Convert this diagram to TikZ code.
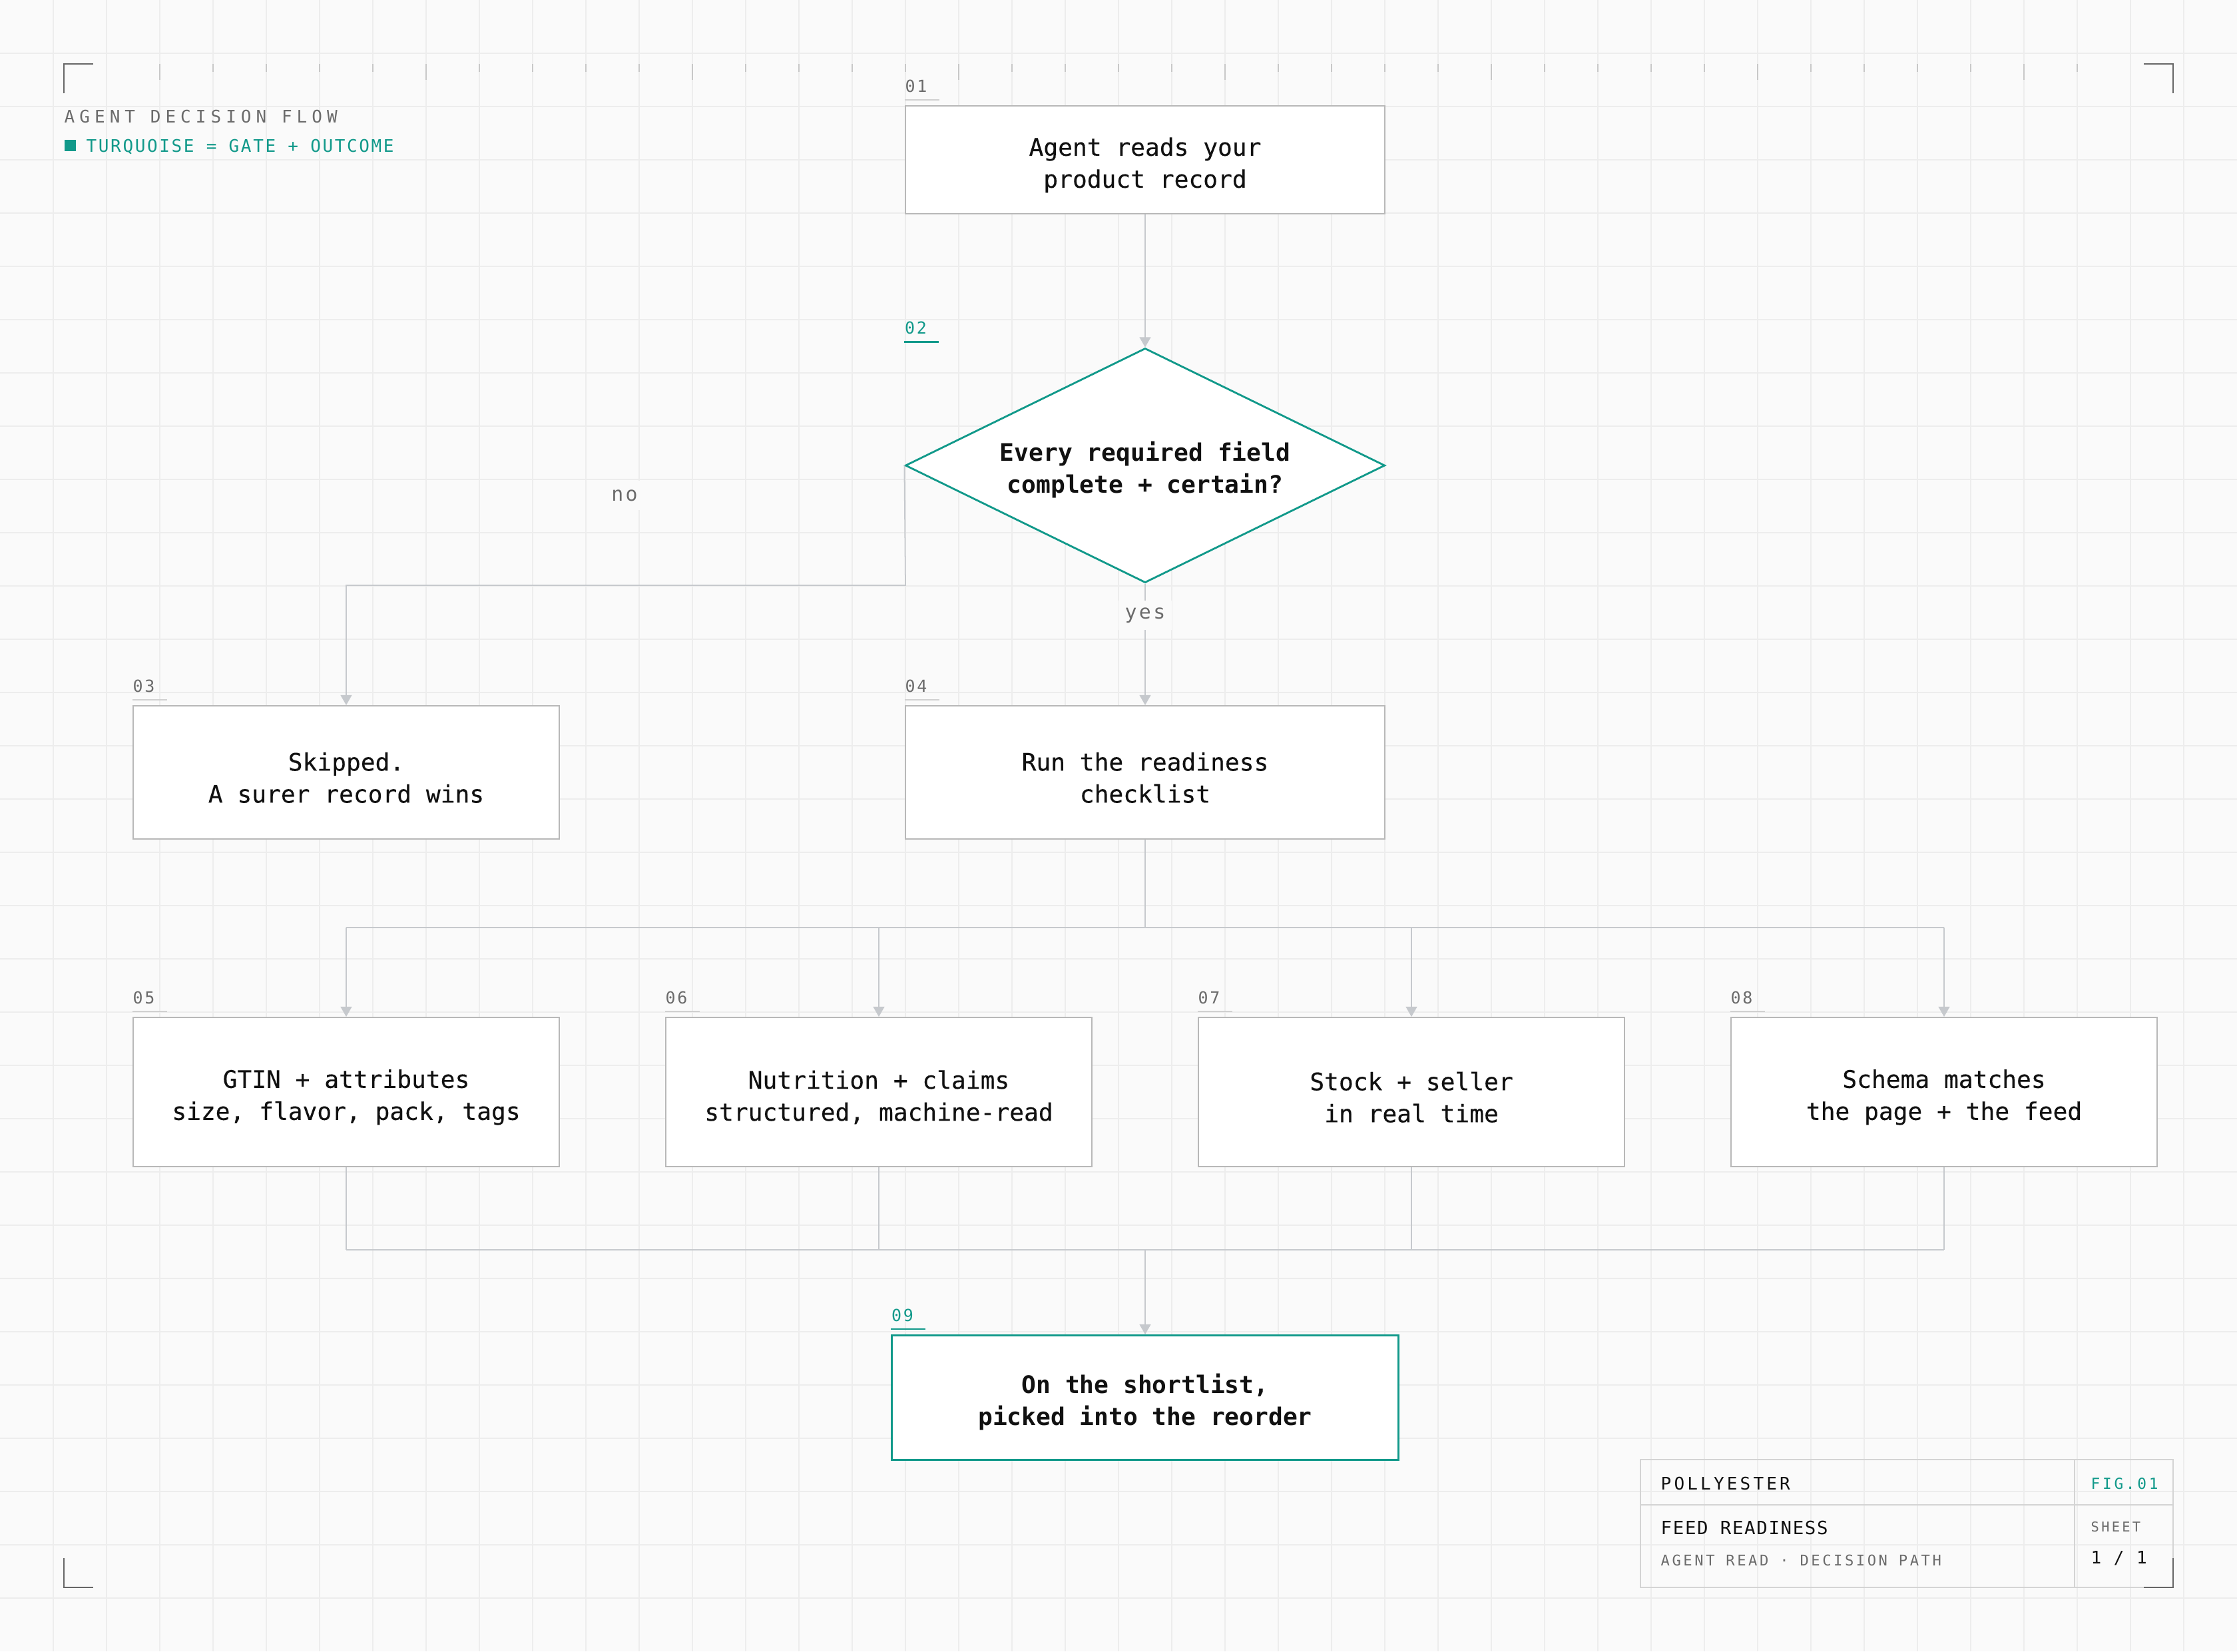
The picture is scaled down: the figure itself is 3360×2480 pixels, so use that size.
\documentclass[tikz,border=0pt]{standalone}
\usepackage{fontspec}
\usetikzlibrary{shapes.geometric,arrows.meta,calc}
\newfontfamily\monoflat{DejaVu Sans Mono}
\newfontfamily\monobox[FakeBold=0.3]{DejaVu Sans Mono}
\newfontfamily\monolight[LetterSpace=6]{DejaVu Sans Mono}
\newfontfamily\monomid[LetterSpace=11]{DejaVu Sans Mono}
\newfontfamily\monolegend[LetterSpace=10]{DejaVu Sans Mono}
\newfontfamily\monowide[LetterSpace=16]{DejaVu Sans Mono}
\newfontfamily\monohead[LetterSpace=27]{DejaVu Sans Mono}

\definecolor{paper}{HTML}{FAFAFA}
\definecolor{gridc}{HTML}{EDEDED}
\definecolor{boxline}{HTML}{B8B8B8}
\definecolor{wirec}{HTML}{C6C9CD}
\definecolor{inkc}{HTML}{111111}
\definecolor{mutedc}{HTML}{6B6B6B}
\definecolor{tealc}{HTML}{11998A}
\definecolor{tickc}{HTML}{C8C8C8}
\definecolor{cornerc}{HTML}{666666}
\definecolor{tblockc}{HTML}{D4D4D4}
\definecolor{tagline}{HTML}{D0D0D0}

\newcommand{\boxfont}{\monobox\fontsize{10.3}{13.66}\selectfont}
\newcommand{\gatefont}{\monoflat\fontsize{10.3}{13.66}\selectfont\bfseries}
% taller first line, sets the two lines a little lower in the box
\newcommand{\lift}{\rule{0pt}{12.3pt}}
% step number above a box: corner, name, number, text colour, rule colour
\newcommand{\steptag}[5]{%
  \node[tagtext,text=#4,anchor=base west] (#2) at ($#1+(0,-20)$) {#3};
  \draw[#5,line width=0.6pt] ($#1+(0,-8)$) -- ++(52,0);}

\tikzset{
  gridline/.style={gridc,line width=0.45pt},
  ruletick/.style={tickc,line width=0.5pt},
  cornermark/.style={cornerc,line width=0.6pt},
  card/.style={draw=boxline,line width=0.55pt,fill=white,inner sep=0pt,
    align=center,font=\boxfont,text=inkc},
  goal/.style={card,draw=tealc,line width=0.8pt,font=\gatefont},
  gate/.style={diamond,aspect=2.05,draw=tealc,line width=0.8pt,fill=white,
    inner sep=0pt,minimum width=7.2cm,minimum height=3.52cm,align=center,
    font=\gatefont,text=inkc},
  wire/.style={draw=wirec,line width=0.5pt},
  flow/.style={wire,-{Triangle[length=4.3pt,width=4.8pt]}},
  tagtext/.style={inner sep=0pt,font=\monomid\fontsize{7.1}{8}\selectfont},
  edgetag/.style={fill=paper,inner sep=0pt,minimum width=0.8cm,minimum height=0.44cm,
    text=mutedc,font=\monomid\fontsize{8.5}{9}\selectfont},
  blocktext/.style={inner sep=0pt,anchor=base west}
}

\begin{document}
\begin{tikzpicture}[x=0.01cm,y=-0.01cm]
\useasboundingbox (0,0) rectangle (3360,2480);
\fill[paper] (0,0) rectangle (3360,2480);
% grid
\foreach \gx in {80,160,...,3280}{
	\draw[gridline] (\gx,0) -- (\gx,2480);}
\foreach \gy in {80,160,...,2400}{
	\draw[gridline] (0,\gy) -- (3360,\gy);}
% ruler ticks along the top
\foreach \tx in {240,320,...,3120}{
	\draw[ruletick] (\tx,96) -- (\tx,108);}
\foreach \tx in {240,640,...,3040}{
	\draw[ruletick] (\tx,96) -- (\tx,120);}

% header
\node[blocktext,text=mutedc,font=\monohead\fontsize{7.4}{8}\selectfont] (heading) at (96,184) {AGENT DECISION FLOW};
\fill[tealc] (97,210) rectangle (114,227);
\node[blocktext,text=tealc,font=\monolegend\fontsize{7.4}{8}\selectfont] (legend) at (129,228) {TURQUOISE = GATE + OUTCOME};

% boxes
\node[card,minimum width=7.2cm,minimum height=1.62cm] (n01) at (1720,240) {\lift Agent reads your\\product record};
\node[gate] (n02) at (1720,699) {\lift Every required field\\complete + certain?};
\node[card,minimum width=6.4cm,minimum height=2cm] (n03) at (520,1160) {\lift Skipped.\\A surer record wins};
\node[card,minimum width=7.2cm,minimum height=2cm] (n04) at (1720,1160) {\lift Run the readiness\\checklist};
\node[card,minimum width=6.4cm,minimum height=2.24cm] (n05) at (520,1640) {\lift GTIN + attributes\\size, flavor, pack, tags};
\node[card,minimum width=6.4cm,minimum height=2.24cm] (n06) at (1320,1640) {\lift Nutrition + claims\\structured, machine-read};
\node[card,minimum width=6.4cm,minimum height=2.24cm] (n07) at (2120,1640) {\lift Stock + seller\\in real time};
\node[card,minimum width=6.4cm,minimum height=2.24cm] (n08) at (2920,1640) {\lift Schema matches\\the page + the feed};
\node[goal,minimum width=7.6cm,minimum height=1.87cm] (n09) at (1720,2099) {\lift On the shortlist,\\picked into the reorder};

% step numbers
\coordinate (n02nw) at (n02.west |- n02.north);
\steptag{(n01.north west)}{t01}{01}{mutedc}{tagline}
\steptag{(n02nw)}{t02}{02}{tealc}{tealc}
\steptag{(n03.north west)}{t03}{03}{mutedc}{tagline}
\steptag{(n04.north west)}{t04}{04}{mutedc}{tagline}
\steptag{(n05.north west)}{t05}{05}{mutedc}{tagline}
\steptag{(n06.north west)}{t06}{06}{mutedc}{tagline}
\steptag{(n07.north west)}{t07}{07}{mutedc}{tagline}
\steptag{(n08.north west)}{t08}{08}{mutedc}{tagline}
\steptag{(n09.north west)}{t09}{09}{tealc}{tealc}

% connectors
\draw[flow] (n01) -- (n02);
\coordinate (noturn) at (1360,879);
\draw[flow] (n02.west) -- (noturn) -| (n03.north);
\node[edgetag] (nolabel) at (938,744) {no};
\draw[flow] (n02.south) -- node[edgetag,pos=0.26] (yeslabel) {yes} (n04.north);
\coordinate (fanout) at (1720,1393);
\draw[wire] (n04.south) -- (fanout);
\draw[wire] (fanout -| n05) -- (fanout -| n08);
\foreach \k in {05,06,07,08}{
	\draw[flow] (fanout -| n\k) -- (n\k.north);}
\coordinate (fanin) at (1720,1877);
\foreach \k in {05,06,07,08}{
	\draw[wire] (n\k.south) -- (fanin -| n\k);}
\draw[wire] (fanin -| n05) -- (fanin -| n08);
\draw[flow] (fanin) -- (n09.north);

% title block
\draw[tblockc,line width=0.55pt] (2464,2192) rectangle (3264,2384);
\draw[tblockc,line width=0.55pt] (3116,2192) -- (3116,2384);
\draw[tblockc,line width=0.55pt] (2464,2260) -- (3264,2260);
\node[blocktext,text=inkc,font=\monowide\fontsize{7.4}{8}\selectfont] (maker) at (2494,2237) {POLLYESTER};
\node[blocktext,text=tealc,font=\monowide\fontsize{6.5}{8}\selectfont] (fig) at (3140,2236) {FIG.01};
\node[blocktext,text=inkc,font=\monolight\fontsize{7.8}{8}\selectfont] (subject) at (2494,2304) {FEED READINESS};
\node[blocktext,text=mutedc,font=\monowide\fontsize{6.3}{8}\selectfont] (scope) at (2494,2351) {AGENT READ · DECISION PATH};
\node[blocktext,text=mutedc,font=\monowide\fontsize{5.8}{8}\selectfont] (sheetlbl) at (3140,2300) {SHEET};
\node[blocktext,text=inkc,font=\monomid\fontsize{7.4}{8}\selectfont] (sheetno) at (3140,2348) {1 / 1};

% corner marks
\draw[cornermark] (96,140) -- (96,96) -- (140,96);
\draw[cornermark] (3220,96) -- (3264,96) -- (3264,140);
\draw[cornermark] (96,2340) -- (96,2384) -- (140,2384);
\draw[cornermark] (3220,2384) -- (3264,2384) -- (3264,2340);
\end{tikzpicture}
\end{document}
